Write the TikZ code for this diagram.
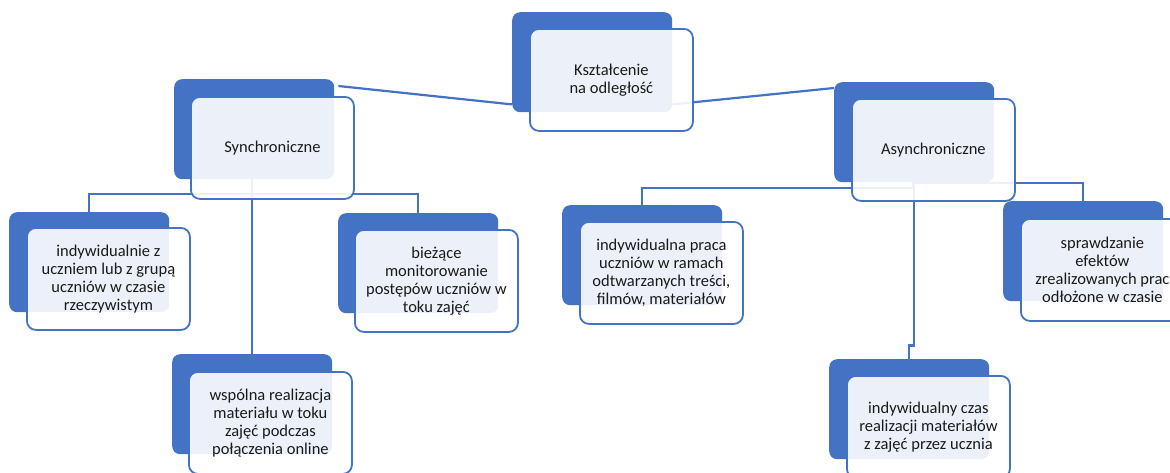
\documentclass[tikz,border=0pt]{standalone}
\usepackage{fontspec}
\setmainfont{Carlito}
\usetikzlibrary{calc}
\definecolor{accent}{HTML}{4472C4}
\definecolor{txt}{HTML}{1A1A1A}
\tikzset{
  back/.style={draw=none, fill=accent, rounded corners=8pt, minimum width=160pt,
    minimum height=100pt, inner sep=0pt, anchor=north west},
  front/.style={draw=accent, line width=1.8pt, fill=white, fill opacity=0.9,
    text opacity=1, rounded corners=9pt, minimum width=163pt, minimum height=102pt,
    inner sep=0pt, anchor=north west, align=center, text=txt,
    font=\fontsize{16.5}{18}\selectfont},
  link/.style={draw=accent, line width=2.2pt},
}
\begin{document}
\begin{tikzpicture}[x=1pt,y=-1pt]
\useasboundingbox (0,0) rectangle (1170,472);
\clip (0,0) rectangle (1170,472);
\fill[white] (0,0) rectangle (1170,472);
% back (dark) boxes
\node[back] (kD)  at (512,12)  {};
\node[back] (sD)  at (174,79)  {};
\node[back] (aD)  at (834,82)  {};
\node[back] (s1D) at (9,212)   {};
\node[back] (s2D) at (172,354) {};
\node[back] (s3D) at (338,213) {};
\node[back] (a1D) at (562,205) {};
\node[back] (a2D) at (829,359) {};
\node[back] (a3D) at (1003,201) {};
% connectors
\draw[link] ($(sD.north east)+(4,7)$) -- ($(kD.south west)+(0,-8)$);
\draw[link] ($(kD.south east)+(0,-8)$) -- ($(aD.north west)+(0,6)$);
\draw[link] (s1D.north) -- ++(0,-18) -| (s3D.north);
\draw[link] (sD.south -| s2D.north) -- (s2D.north);
\draw[link] (a1D.north) -- ++(0,-17) -| ($(aD.south)+(-1,0)$);
\draw[link] (a3D.north) -- ++(0,-18) -| (aD.south);
\draw[link] (aD.south) -- ++(0,163) -| (a2D.north);
% front boxes
\node[front] (kF)  at (529,28)  {Kształcenie\\na odległość};
\node[front] (sF)  at (190,96)  {Synchroniczne};
\node[front] (aF)  at (851,98)  {Asynchroniczne};
\node[front] (s1F) at (26,227)  {indywidualnie z\\uczniem lub z grupą\\uczniów w czasie\\rzeczywistym};
\node[front] (s2F) at (188,371) {wspólna realizacja\\materiału w toku\\zajęć podczas\\połączenia online};
\node[front] (s3F) at (354,229) {bieżące\\monitorowanie\\postępów uczniów w\\toku zajęć};
\node[front] (a1F) at (579,221) {indywidualna praca\\uczniów w ramach\\odtwarzanych treści,\\filmów, materiałów};
\node[front] (a2F) at (846,375) {indywidualny czas\\realizacji materiałów\\z zajęć przez ucznia};
\node[front] (a3F) at (1020,218) {sprawdzanie\\efektów\\zrealizowanych prac\\odłożone w czasie};
\end{tikzpicture}
\end{document}
